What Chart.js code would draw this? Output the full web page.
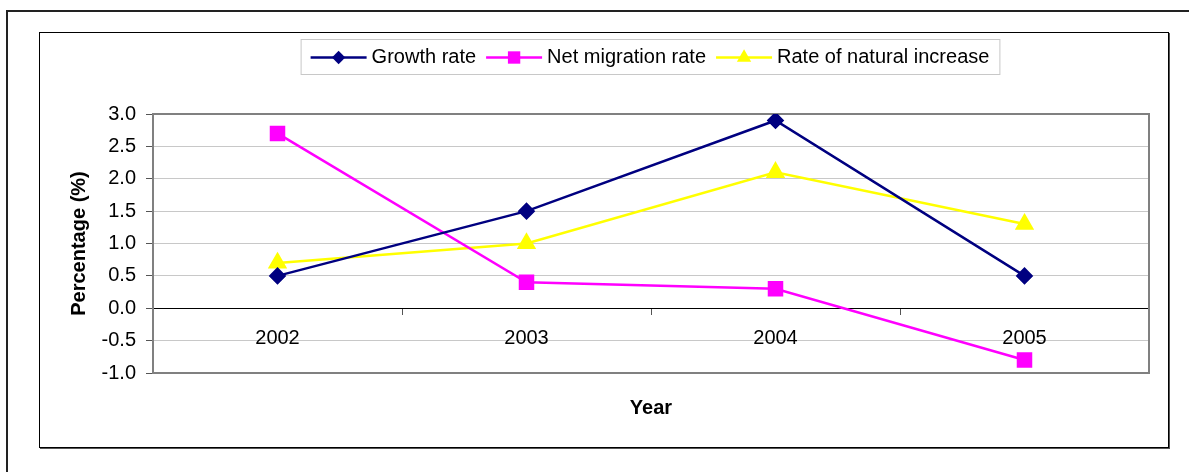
<!DOCTYPE html>
<html>
<head>
<meta charset="utf-8">
<script src="https://cdn.jsdelivr.net/npm/chart.js@4.4.1/dist/chart.umd.min.js"></script>
<style>
  body { margin: 0; background: #fff; overflow: hidden; }
  #frame { position: absolute; left: 6px; top: 10px; width: 1300px; height: 600px; border: 2px solid #222; }
  #box { position: absolute; left: 39px; top: 32px; width: 1128px; height: 414px; border: 1px solid #000; box-shadow: 1px 1px 0 #555; background: #fff; }
  #box canvas { display: block; }
</style>
</head>
<body>
<div id="frame"></div>
<div id="box"><canvas id="line_chart" width="1128" height="414"></canvas></div>
<script>
  const years = ['2002', '2003', '2004', '2005'];
  const growthRate = [0.5, 1.5, 2.9, 0.5];
  const netMigrationRate = [2.7, 0.4, 0.3, -0.8];
  const naturalIncrease = [0.7, 1.0, 2.1, 1.3];
  const xTitle = 'Year';

  const FONT = "'Liberation Sans', Arial, sans-serif";

  // gray frame round the plot area
  const plotBorder = {
    id: 'plotBorder',
    beforeDatasetsDraw(chart) {
      const a = chart.chartArea;
      const ctx = chart.ctx;
      ctx.save();
      ctx.strokeStyle = '#808080';
      ctx.lineWidth = 2;
      ctx.strokeRect(a.left, a.top, a.right - a.left, a.bottom - a.top);
      ctx.restore();
    }
  };

  // x title centred under the plot area, below the zero axis
  const bottomTitle = {
    id: 'bottomTitle',
    afterDraw(chart) {
      const a = chart.chartArea;
      const ctx = chart.ctx;
      ctx.save();
      ctx.font = 'bold 20px ' + FONT;
      ctx.fillStyle = '#000';
      ctx.textAlign = 'center';
      ctx.textBaseline = 'middle';
      ctx.fillText(xTitle, (a.left + a.right) / 2, a.bottom + 35);
      ctx.restore();
    }
  };

  function marker(ctx, style, x, y, r) {
    ctx.beginPath();
    if (style === 'rectRot') {
      ctx.moveTo(x - r, y); ctx.lineTo(x, y - r); ctx.lineTo(x + r, y); ctx.lineTo(x, y + r);
    } else if (style === 'rect') {
      const s = r * Math.SQRT1_2;
      ctx.rect(x - s, y - s, 2 * s, 2 * s);
    } else {
      ctx.moveTo(x, y - r);
      ctx.lineTo(x + r * 0.866, y + r * 0.5);
      ctx.lineTo(x - r * 0.866, y + r * 0.5);
    }
    ctx.closePath();
    ctx.fill();
  }

  // legend with a line and marker for each series
  const lineLegend = {
    id: 'lineLegend',
    afterDraw(chart) {
      const ctx = chart.ctx;
      const sets = chart.data.datasets;
      ctx.save();
      ctx.font = '20px ' + FONT;
      const lineW = 56, gap = 5, itemGap = 10, pad = 10;
      const widths = sets.map(d => ctx.measureText(d.label).width);
      let total = pad * 2;
      widths.forEach((w, i) => { total += lineW + gap + w + (i ? itemGap : 0); });
      const cx = 610, top = 6, h = 35;
      let x = cx - total / 2;
      ctx.fillStyle = '#fff';
      ctx.fillRect(x, top, total, h);
      ctx.strokeStyle = '#c8c8c8';
      ctx.lineWidth = 1;
      ctx.strokeRect(x + 0.5, top + 0.5, total, h);
      x += pad;
      const my = top + h / 2 + 1;
      sets.forEach((d, i) => {
        if (i) x += itemGap;
        ctx.strokeStyle = d.borderColor;
        ctx.lineWidth = d.borderWidth;
        ctx.beginPath();
        ctx.moveTo(x, my); ctx.lineTo(x + lineW, my);
        ctx.stroke();
        ctx.fillStyle = d.backgroundColor;
        marker(ctx, d.pointStyle, x + lineW / 2, my, d.pointRadius * 0.95);
        x += lineW + gap;
        ctx.fillStyle = '#000';
        ctx.textBaseline = 'middle';
        ctx.fillText(d.label, x, my);
        x += widths[i];
      });
      ctx.restore();
    }
  };

  const ctx = document.getElementById('line_chart').getContext('2d');
  const chart = new Chart(ctx, {
    type: 'line',
    data: {
      labels: years,
      datasets: [{
        label: 'Growth rate',
        data: growthRate,
        borderColor: '#000080',
        backgroundColor: '#000080',
        borderWidth: 2.5,
        pointStyle: 'rectRot',
        pointRadius: 7,
        tension: 0
      }, {
        label: 'Net migration rate',
        data: netMigrationRate,
        borderColor: '#ff00ff',
        backgroundColor: '#ff00ff',
        borderWidth: 2.5,
        pointStyle: 'rect',
        pointRadius: 9.2,
        tension: 0
      }, {
        label: 'Rate of natural increase',
        data: naturalIncrease,
        borderColor: '#ffff00',
        backgroundColor: '#ffff00',
        borderWidth: 2.5,
        pointStyle: 'triangle',
        pointRadius: 8.7,
        tension: 0
      }]
    },
    options: {
      responsive: false,
      animation: false,
      layout: { padding: { top: 81, right: 19, bottom: 74, left: 0 } },
      plugins: {
        legend: { display: false },
        tooltip: { enabled: false }
      },
      scales: {
        x: {
          type: 'category',
          position: { y: 0 },
          offset: true,
          afterFit(scale) { scale.height = 0; },
          grid: { offset: true, drawOnChartArea: false, drawTicks: true, tickLength: 6, color: '#555' },
          border: { display: true, color: '#000', width: 1 },
          ticks: { color: '#000', padding: 12, font: { family: FONT, size: 20 } }
        },
        y: {
          min: -1,
          max: 3,
          afterFit(scale) { scale.width = 113; },
          grid: {
            color: c => (c.tick && c.tick.value === 0) ? '#000' : '#c8c8c8',
            tickColor: '#555',
            tickLength: 7
          },
          border: { display: false },
          ticks: {
            stepSize: 0.5,
            color: '#000',
            padding: 10,
            font: { family: FONT, size: 20 },
            callback: v => v.toFixed(1)
          },
          title: {
            display: true,
            text: 'Percentage (%)',
            color: '#000',
            font: { family: FONT, size: 20, weight: 'bold' },
            padding: { top: 27, bottom: 0 }
          }
        }
      }
    },
    plugins: [plotBorder, lineLegend, bottomTitle]
  });
</script>
</body>
</html>
